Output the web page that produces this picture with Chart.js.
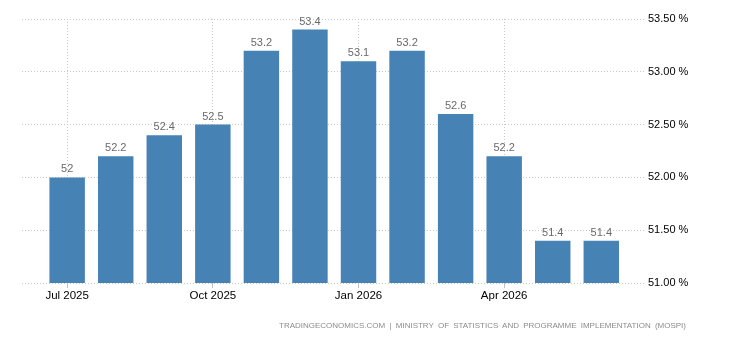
<!DOCTYPE html>
<html>
<head>
<meta charset="utf-8">
<script src="https://cdn.jsdelivr.net/npm/chart.js@4/dist/chart.umd.min.js"></script>
<style>
  html, body { margin: 0; padding: 0; background: #fff; }
  #wrap { position: relative; width: 730px; height: 340px; }
  #source {
    position: absolute; right: 44px; top: 321px;
    font: 8px/10px "Liberation Sans", Arial, sans-serif;
    color: #8c8c8c; word-spacing: 2px; white-space: nowrap;
  }
</style>
</head>
<body>
<div id="wrap">
  <canvas id="chart" width="730" height="340"></canvas>
  <div id="source">TRADINGECONOMICS.COM | MINISTRY OF STATISTICS AND PROGRAMME IMPLEMENTATION (MOSPI)</div>
</div>
<script>
const MONTHS = ['Jul 2025', 'Aug 2025', 'Sep 2025', 'Oct 2025', 'Nov 2025', 'Dec 2025',
  'Jan 2026', 'Feb 2026', 'Mar 2026', 'Apr 2026', 'May 2026', 'Jun 2026'];
const VALUES = [52, 52.2, 52.4, 52.5, 53.2, 53.4, 53.1, 53.2, 52.6, 52.2, 51.4, 51.4];
const X_TICKS = [0, 3, 6, 9];
const Y_TICKS = [51, 51.5, 52, 52.5, 53, 53.5];

const FONT = '"Liberation Sans", Arial, sans-serif';

// value printed above each bar
const valueLabels = {
  id: 'valueLabels',
  afterDatasetsDraw(chart) {
    const ctx = chart.ctx;
    const meta = chart.getDatasetMeta(0);
    ctx.save();
    ctx.font = '11px ' + FONT;
    ctx.fillStyle = '#6a6a6a';
    ctx.textAlign = 'center';
    ctx.textBaseline = 'alphabetic';
    meta.data.forEach((bar, i) => {
      ctx.fillText(String(VALUES[i]), bar.x, bar.y - 5);
    });
    ctx.restore();
  },
};

new Chart(document.getElementById('chart'), {
  type: 'bar',
  data: {
    datasets: [{
      data: VALUES.map((v, i) => ({ x: i, y: v })),
      backgroundColor: '#4682b4',
      borderWidth: 0,
      barPercentage: 0.73,
      categoryPercentage: 1,
    }],
  },
  plugins: [valueLabels],
  options: {
    animation: false,
    responsive: false,
    layout: { padding: { top: 19, left: 22, right: 0, bottom: 0 } },
    plugins: { legend: { display: false }, tooltip: { enabled: false } },
    scales: {
      x: {
        type: 'linear',
        offset: false,
        min: -0.93,
        max: 11.9,
        afterBuildTicks: (scale) => { scale.ticks = X_TICKS.map((v) => ({ value: v })); },
        afterFit: (scale) => { scale.height = 57; },
        border: { display: false, dash: [1, 2] },
        grid: {
          offset: false,
          color: '#c8c8c8',
          tickColor: '#c0c0c0',
          tickLength: 5,
          tickBorderDash: [],
        },
        ticks: {
          padding: 1,
          color: '#000',
          font: { family: FONT, size: 11.5 },
          callback: (v) => MONTHS[v],
        },
      },
      y: {
        position: 'right',
        min: 51,
        max: 53.5,
        afterBuildTicks: (scale) => { scale.ticks = Y_TICKS.map((v) => ({ value: v })); },
        afterFit: (scale) => { scale.width = 85; },
        border: { display: false, dash: [1, 2] },
        grid: { color: '#c8c8c8', drawTicks: false },
        ticks: {
          padding: 3,
          color: '#000',
          font: { family: FONT, size: 11 },
          callback: (v) => v.toFixed(2) + ' %',
        },
      },
    },
  },
});
</script>
</body>
</html>
